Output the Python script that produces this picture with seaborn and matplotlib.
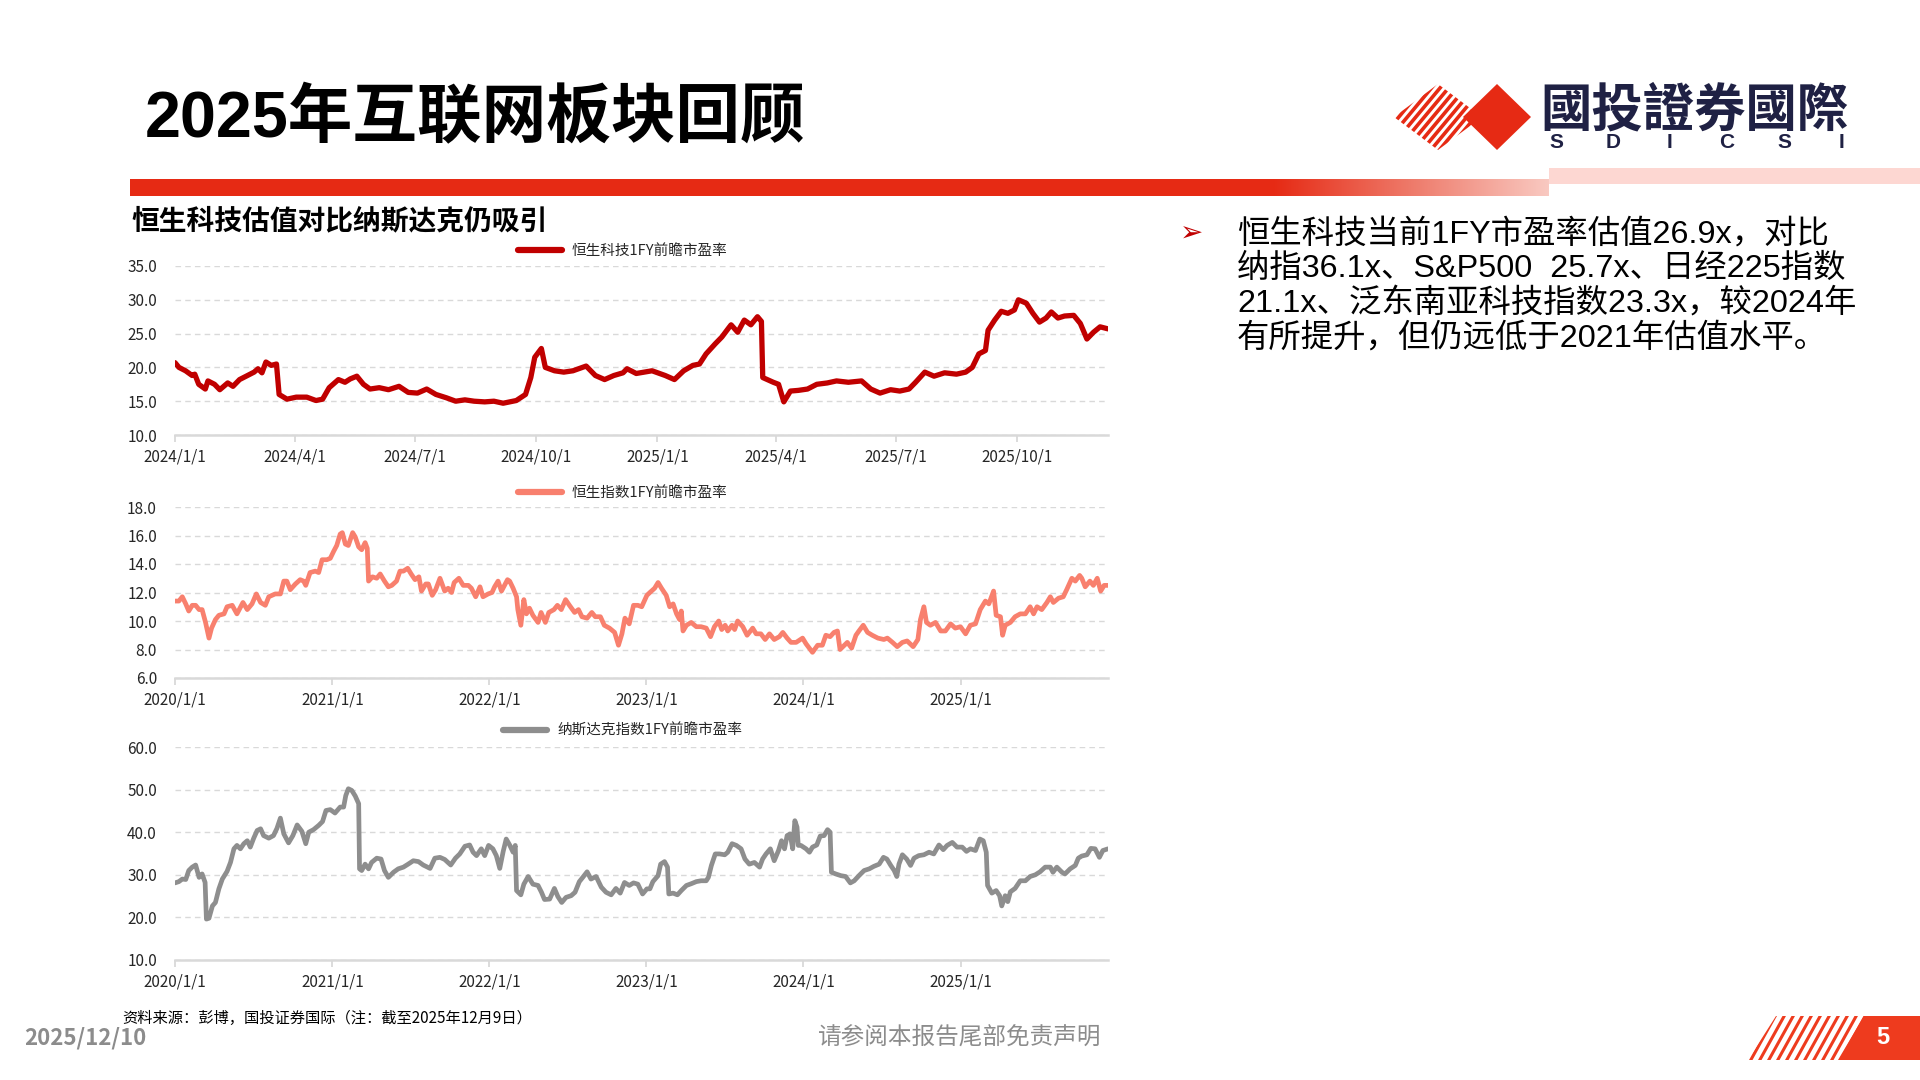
import numpy as np
import pandas as pd
import matplotlib
matplotlib.use("Agg")
import matplotlib.pyplot as plt
import seaborn as sns
from matplotlib.patches import Rectangle, Polygon
from matplotlib.colors import LinearSegmentedColormap

# ---------------- data ----------------
# 恒生科技 1FY forward PE, days since 2024-01-01
hstech_start = "2024-01-01"
hstech_day = [0, 3, 8, 13, 15, 18, 23, 25, 30, 34,
              40, 44, 49, 54, 60, 63, 66, 69, 73, 77,
              79, 85, 92, 100, 107, 112, 117, 124, 129, 133,
              138, 143, 148, 155, 162, 170, 177, 184, 191, 198,
              206, 213, 220, 227, 235, 242, 249, 259, 266, 270,
              273, 278, 281, 288, 295, 302, 312, 319, 326, 333,
              340, 343, 350, 362, 372, 379, 386, 393, 398, 403,
              410, 415, 420, 422, 427, 432, 437, 442, 445, 446,
              454, 458, 462, 467, 473, 480, 487, 495, 502, 511,
              521, 528, 535, 543, 550, 557, 562, 569, 576, 584,
              593, 600, 605, 610, 615, 617, 622, 627, 632, 637,
              640, 646, 651, 656, 661, 665, 670, 675, 682, 687,
              692, 697, 702, 708]
hstech_pe = [20.7, 20.0, 19.5, 18.8, 19.0, 17.5, 16.8, 18.0, 17.5, 16.7,
             17.7, 17.2, 18.2, 18.7, 19.3, 19.8, 19.2, 20.8, 20.3, 20.5,
             16.0, 15.3, 15.6, 15.6, 15.1, 15.3, 17.0, 18.2, 17.8, 18.3,
             18.7, 17.5, 16.8, 17.0, 16.7, 17.2, 16.3, 16.2, 16.8, 16.0,
             15.5, 15.0, 15.2, 15.0, 14.9, 15.0, 14.7, 15.1, 16.0, 18.5,
             21.5, 22.8, 20.0, 19.5, 19.3, 19.5, 20.2, 18.8, 18.2, 18.8,
             19.2, 19.8, 19.1, 19.5, 18.8, 18.2, 19.5, 20.3, 20.5, 22.0,
             23.5, 24.5, 25.8, 26.3, 25.2, 27.0, 26.3, 27.5, 26.8, 18.5,
             17.8, 17.5, 14.9, 16.5, 16.6, 16.8, 17.5, 17.7, 18.0, 17.8,
             18.0, 16.8, 16.2, 16.7, 16.5, 16.8, 17.8, 19.3, 18.7, 19.2,
             19.0, 19.3, 20.0, 22.0, 22.5, 25.5, 27.0, 28.3, 28.0, 28.5,
             30.0, 29.5, 28.0, 26.7, 27.3, 28.2, 27.3, 27.6, 27.7, 26.5,
             24.2, 25.2, 26.0, 25.7]

# 恒生指数 1FY forward PE, days since 2020-01-01
hsi_start = "2020-01-01"
hsi_day = [0, 9, 17, 25, 32, 40, 48, 56, 63, 71,
           79, 85, 94, 102, 114, 121, 133, 144, 158, 168,
           179, 189, 199, 210, 218, 233, 245, 253, 260, 268,
           280, 291, 299, 304, 314, 326, 334, 342, 353, 361,
           369, 376, 384, 389, 396, 403, 413, 419, 427, 434,
           442, 447, 450, 459, 469, 477, 487, 496, 504, 515,
           523, 531, 541, 549, 558, 567, 573, 583, 589, 598,
           606, 616, 627, 635, 643, 649, 660, 670, 682, 689,
           699, 709, 716, 728, 737, 743, 751, 759, 773, 778,
           786, 794, 797, 804, 811, 817, 824, 832, 844, 851,
           861, 869, 881, 889, 898, 908, 917, 929, 938, 946,
           958, 969, 977, 989, 998, 1010, 1022, 1031, 1039, 1046,
           1056, 1066, 1076, 1085, 1097,
           1104, 1115, 1123, 1131, 1142, 1150, 1158, 1166, 1173, 1177,
           1181, 1189, 1200, 1212, 1223, 1235, 1245, 1254, 1264, 1271,
           1279, 1285, 1295, 1301, 1308, 1320, 1330, 1343, 1351, 1362,
           1372, 1382, 1393, 1405, 1413, 1423, 1432, 1444, 1459, 1467,
           1482, 1494, 1505, 1513, 1523, 1532, 1540, 1546, 1556, 1563,
           1573, 1583, 1590, 1600, 1610, 1621, 1634, 1648, 1656, 1668,
           1679, 1691, 1702, 1716, 1727, 1733, 1741, 1747, 1756, 1768,
           1780, 1791, 1803, 1814, 1826, 1838, 1849, 1861, 1872, 1884,
           1892, 1897, 1903, 1909, 1919, 1924, 1930, 1942, 1953, 1965,
           1977, 1988, 1996, 2004, 2015, 2027, 2035, 2042, 2054, 2065,
           2073, 2085, 2093, 2103, 2108, 2116, 2127, 2135, 2144, 2152,
           2160, 2169]
hsi_pe = [11.4, 11.4, 11.7, 11.2, 10.7, 11.1, 11.1, 10.8, 10.8, 9.9,
          8.8, 9.5, 10.1, 10.4, 10.5, 11.0, 11.1, 10.5, 11.3, 10.8,
          11.2, 11.9, 11.3, 11.1, 11.7, 11.9, 11.9, 12.8, 12.8, 12.2,
          12.6, 12.9, 12.8, 12.5, 13.4, 13.5, 13.4, 14.3, 14.3, 14.4,
          14.9, 15.3, 16.1, 16.2, 15.4, 15.3, 16.2, 15.9, 15.2, 15.0,
          15.5, 15.1, 12.8, 13.1, 13.0, 13.3, 12.8, 12.4, 12.5, 12.8,
          13.5, 13.5, 13.7, 13.3, 12.9, 13.1, 12.1, 12.6, 12.6, 11.8,
          12.2, 13.0, 12.1, 12.3, 12.0, 12.7, 13.0, 12.5, 12.5, 12.3,
          11.7, 12.4, 11.7, 11.9, 12.0, 12.4, 12.8, 12.1, 12.9, 12.8,
          12.3, 11.7, 10.8, 9.7, 11.5, 10.5, 10.9, 10.4, 9.9, 10.6,
          9.9, 10.6, 10.8, 11.1, 10.8, 11.5, 11.1, 10.6, 10.8, 10.3,
          10.2, 10.6, 10.3, 10.3, 9.7, 9.5, 9.2, 8.3, 9.1, 10.2,
          9.8, 11.1, 11.1, 11.0, 11.8,
          12.0, 12.3, 12.7, 12.3, 11.8, 11.0, 11.2, 10.5, 10.1, 10.7,
          9.3, 9.7, 9.9, 9.6, 9.6, 9.5, 8.9, 9.6, 10.0, 9.4,
          9.7, 9.3, 9.7, 9.4, 10.0, 9.6, 9.0, 9.5, 9.1, 9.1,
          8.7, 9.1, 8.7, 8.9, 9.2, 8.8, 8.5, 8.5, 8.8, 8.4,
          7.8, 8.3, 8.3, 9.0, 8.9, 9.2, 9.3, 8.0, 8.3, 8.5,
          8.1, 9.0, 9.3, 9.7, 9.2, 9.0, 8.8, 8.7, 8.8, 8.5,
          8.2, 8.5, 8.6, 8.2, 8.7, 10.1, 11.0, 9.9, 9.7, 9.9,
          9.3, 9.3, 9.8, 9.5, 9.6, 9.1, 9.7, 9.8, 10.8, 11.4,
          11.2, 11.6, 12.1, 10.4, 10.3, 9.0, 9.7, 9.9, 10.3, 10.5,
          10.5, 11.0, 10.5, 11.0, 10.8, 11.3, 11.7, 11.3, 11.6, 11.7,
          12.2, 13.0, 12.8, 13.2, 13.0, 12.4, 12.8, 12.5, 13.0, 12.1,
          12.5, 12.5]

# 纳斯达克指数 1FY forward PE, days since 2020-01-01
ndx_start = "2020-01-01"
ndx_day = [0, 9, 17, 25, 32, 40, 48, 56, 63, 70,
           73, 79, 87, 94, 102, 110, 121, 129, 137, 144,
           152, 160, 168, 175, 183, 191, 199, 206, 218, 229,
           237, 245, 253, 264, 274, 284, 295, 304, 311, 322,
           334, 343, 351, 361, 372, 384, 392, 397, 403, 411,
           419, 427, 429, 434, 442, 450, 457, 469, 479, 487,
           496, 508, 519, 531, 542, 554, 566, 577, 593, 604,
           616, 627, 641, 652, 662, 674, 685, 693, 701, 712,
           720, 729, 739, 747, 755, 763, 770, 778, 786, 791,
           794, 804, 811, 821, 832, 844, 852, 859, 871, 882,
           890, 899, 909, 921, 930, 940, 948, 958, 967, 979,
           991, 1002, 1014, 1025, 1035, 1045, 1056, 1066, 1076, 1087,
           1097,
           1104, 1111, 1123, 1129, 1138, 1145, 1148, 1158, 1168, 1177,
           1189, 1200, 1212, 1223, 1235, 1240, 1247, 1256, 1266, 1278,
           1285, 1295, 1305, 1316, 1325, 1335, 1347, 1359, 1366, 1374,
           1384, 1393, 1403, 1410, 1417, 1423, 1430, 1436, 1441, 1446,
           1449, 1455, 1467, 1475, 1482, 1492, 1500, 1509, 1517, 1523,
           1526, 1536, 1548, 1559, 1570, 1579, 1590, 1602, 1614, 1625,
           1637, 1647, 1655, 1664, 1672, 1678, 1683, 1691, 1701, 1710,
           1718, 1729, 1741, 1753, 1764, 1776, 1786, 1795, 1807, 1818,
           1830, 1840, 1849, 1861, 1871, 1879, 1886, 1889, 1899, 1909,
           1917, 1922, 1930, 1936, 1942, 1953, 1965, 1977, 1988, 2000,
           2011, 2023, 2035, 2041, 2050, 2062, 2069, 2081, 2093, 2100,
           2108, 2120, 2129, 2139, 2149, 2157, 2169]
ndx_pe = [28.1, 28.4, 29.0, 28.9, 31.0, 31.8, 32.3, 29.4, 30.2, 28.2,
          19.6, 19.8, 22.7, 23.5, 26.7, 29.0, 30.8, 32.9, 36.1, 36.9,
          36.1, 37.3, 38.0, 36.5, 38.6, 40.4, 40.8, 39.2, 38.6, 39.2,
          40.9, 43.3, 39.6, 37.5, 39.2, 41.7, 40.2, 37.3, 40.0, 40.6,
          41.6, 42.5, 45.1, 45.3, 44.5, 45.9, 45.9, 48.6, 50.2, 49.8,
          48.5, 46.7, 31.4, 31.0, 32.5, 31.4, 32.9, 33.9, 33.7, 31.0,
          29.4, 30.6, 31.4, 31.8, 32.5, 33.3, 33.1, 32.3, 31.5, 33.9,
          34.1, 33.6, 32.3, 33.9, 34.9, 36.7, 37.0, 35.3, 34.5, 36.1,
          34.5, 36.9, 36.1, 34.5, 31.5, 35.5, 38.4, 37.0, 35.3, 36.9,
          26.3, 25.3, 27.8, 29.6, 27.8, 27.5, 25.9, 24.2, 24.3, 26.8,
          24.9, 23.5, 24.7, 25.1, 25.9, 28.4, 29.4, 30.7, 29.0, 29.6,
          27.1, 25.9, 25.3, 26.8, 25.7, 28.2, 27.5, 28.1, 27.8, 25.5,
          26.7,
          26.7, 28.4, 29.8, 32.5, 33.1, 31.8, 25.5, 25.7, 25.3, 26.3,
          27.5, 27.9, 28.4, 28.6, 28.6, 29.4, 32.2, 34.9, 34.9, 34.7,
          35.3, 37.3, 36.9, 36.1, 33.7, 32.5, 32.9, 31.8, 33.7, 34.9,
          36.1, 33.3, 35.7, 38.0, 36.1, 39.2, 39.6, 36.1, 42.7, 41.2,
          36.9, 36.9, 36.1, 35.3, 36.5, 37.0, 39.1, 39.2, 40.6, 40.0,
          30.6, 30.2, 29.8, 29.6, 28.1, 28.6, 29.8, 31.0, 31.4, 32.0,
          32.5, 34.1, 33.7, 32.2, 31.0, 29.6, 32.5, 34.7, 33.7, 32.2,
          33.9, 34.5, 34.7, 35.3, 34.9, 37.0, 35.9, 36.9, 37.6, 36.5,
          36.5, 35.5, 36.1, 35.7, 38.4, 38.0, 35.3, 27.5, 25.7, 26.3,
          25.1, 22.7, 25.1, 23.7, 26.0, 26.8, 28.6, 28.6, 29.6, 30.0,
          30.7, 31.8, 31.8, 30.6, 31.8, 30.6, 30.2, 31.4, 32.2, 33.9,
          34.4, 34.7, 36.2, 36.1, 34.1, 35.7, 36.1]

hstech_label = "恒生科技1FY前瞻市盈率"
hsi_label = "恒生指数1FY前瞻市盈率"
ndx_label = "纳斯达克指数1FY前瞻市盈率"

chart1_xticklabels = ["2024/1/1", "2024/4/1", "2024/7/1", "2024/10/1",
                      "2025/1/1", "2025/4/1", "2025/7/1", "2025/10/1"]
chart23_xticklabels = ["2020/1/1", "2021/1/1", "2022/1/1",
                       "2023/1/1", "2024/1/1", "2025/1/1"]
chart1_yticks = [10, 15, 20, 25, 30, 35]
chart2_yticks = [6, 8, 10, 12, 14, 16, 18]
chart3_yticks = [10, 20, 30, 40, 50, 60]

title_text = "2025年互联网板块回顾"
subtitle_text = "恒生科技估值对比纳斯达克仍吸引"
bullet_lines = ["恒生科技当前1FY市盈率估值26.9x，对比",
                "纳指36.1x、S&P500  25.7x、日经225指数",
                "21.1x、泛东南亚科技指数23.3x，较2024年",
                "有所提升，但仍远低于2021年估值水平。"]
source_text = "资料来源：彭博，国投证券国际（注：截至2025年12月9日）"
date_text = "2025/12/10"
disclaimer_text = "请参阅本报告尾部免责声明"
page_text = "5"
logo_cn = "國投證券國際"
logo_en = ["S", "D", "I", "C", "S", "I"]

# ---------------- style ----------------
sns.set_theme(style="white")
CJK = "Noto Sans CJK SC"
plt.rcParams["font.family"] = ["Liberation Sans", CJK, "DejaVu Sans"]
plt.rcParams["axes.unicode_minus"] = False
NARROW = ["Liberation Sans Narrow", CJK, "DejaVu Sans"]

RED = "#E62A14"
GRID = "#D9D9D9"

fig = plt.figure(figsize=(19.2, 10.8), dpi=100)
fig.patch.set_facecolor("white")

deco = fig.add_axes([0, 0, 1, 1], zorder=0)
deco.set_xlim(0, 1920)
deco.set_ylim(1080, 0)
deco.axis("off")

# header bars
deco.add_patch(Rectangle((130, 179), 1145, 17, color=RED, lw=0))
cmap = LinearSegmentedColormap.from_list("fade", [RED, "#EE7A6A", "#F9C9C1"])
grad = np.linspace(0, 1, 256).reshape(1, -1)
deco.imshow(grad, extent=(1273, 1549, 196, 179), aspect="auto", cmap=cmap, zorder=1)
deco.add_patch(Rectangle((1549, 168), 371, 16, color="#FDD7D2", lw=0))

# logo: hatched diamond + solid diamond
hatch_clip = Polygon([(1394, 117), (1438, 84), (1482, 117), (1438, 150)],
                     closed=True, facecolor="none", edgecolor="none")
deco.add_patch(hatch_clip)
for k in range(-8, 16):
    x0 = 1380 + k * 8.5
    ln, = deco.plot([x0, x0 + 70], [160, 76], color=RED, lw=2.6, solid_capstyle="butt")
    ln.set_clip_path(hatch_clip)
deco.add_patch(Polygon([(1463, 117), (1497, 84), (1531, 117), (1497, 150)],
                       closed=True, color=RED, lw=0))
deco.text(1540, 110, logo_cn, fontsize=37, fontweight="bold", color="#1F2144",
          family=["Noto Sans CJK TC", CJK], va="center", ha="left")
for i, ch in enumerate(logo_en):
    deco.text(1556 + i * 57, 143, ch, fontsize=15, fontweight="bold",
              color="#1F2144", ha="center", va="center")

# titles
deco.text(145, 119, title_text, fontsize=46.5, fontweight="bold", color="black",
          va="center", ha="left")
deco.text(131, 221, subtitle_text, fontsize=20, fontweight="bold", color="black",
          va="center", ha="left", family=[CJK])

# bullet text
deco.text(1180, 234, "➢", fontsize=20, color="#C00000", family=["DejaVu Sans"],
          va="center", ha="left")
for i, line in enumerate(bullet_lines):
    deco.text(1237, 234 + i * 34.7, line, fontsize=23.3, color="black",
              va="center", ha="left")

# footer
deco.text(122, 1018, source_text, fontsize=11, color="black", va="center", ha="left",
          family=NARROW)
deco.text(24, 1038, date_text, fontsize=16, fontweight="bold", color="#8C8C8C",
          va="center", ha="left", family=NARROW)
deco.text(960, 1038, disclaimer_text, fontsize=17, color="#8C8C8C",
          va="center", ha="center", family=[CJK])
page_clip = Polygon([(1748, 1060), (1776, 1016), (1866, 1016), (1838, 1060)],
                    closed=True, facecolor="none", edgecolor="none")
deco.add_patch(page_clip)
for k in range(0, 14):
    x0 = 1730 + k * 9
    ln, = deco.plot([x0, x0 + 30], [1065, 1011], color="#EE3B1E", lw=2.2,
                    solid_capstyle="butt")
    ln.set_clip_path(page_clip)
deco.add_patch(Polygon([(1838, 1060), (1864, 1016), (1920, 1016), (1920, 1060)],
                       closed=True, color="#EE3B1E", lw=0))
deco.text(1883, 1038, page_text, fontsize=17, fontweight="bold", color="white",
          va="center", ha="center")
deco.set_xlim(0, 1920)
deco.set_ylim(1080, 0)


def to_frame(start, days, vals):
    dates = pd.Timestamp(start) + pd.to_timedelta(days, unit="D")
    return pd.DataFrame({"date": dates, "pe": vals})


def draw_panel(rect, df, color, label, yticks, xticklabels, legend_y, lw):
    l, t, r, b = rect
    ax = fig.add_axes([l / 1920, 1 - b / 1080, (r - l) / 1920, (b - t) / 1080], zorder=2)
    ax.set_facecolor("none")
    sns.lineplot(data=df, x="date", y="pe", ax=ax, color=color, lw=lw, label=label)
    ax.set_ylim(yticks[0], yticks[-1])
    ax.set_yticks(yticks)
    ax.set_yticklabels([f"{v:.1f}" for v in yticks], family=NARROW, fontsize=11,
                       color="#262626")
    tick_dates = [pd.to_datetime(s, format="%Y/%m/%d") for s in xticklabels]
    ax.set_xticks(tick_dates)
    ax.set_xticklabels(xticklabels, family=NARROW, fontsize=11, color="#262626")
    ax.set_xlim(df["date"].iloc[0], df["date"].iloc[-1])
    ax.set_xlabel("")
    ax.set_ylabel("")
    for s in ["left", "right", "top"]:
        ax.spines[s].set_visible(False)
    ax.spines["bottom"].set_color(GRID)
    ax.spines["bottom"].set_linewidth(1.8)
    ax.tick_params(axis="y", length=0, pad=13)
    ax.tick_params(axis="x", direction="out", length=5, width=1.3, color=GRID, pad=5,
                   bottom=True)
    ax.yaxis.grid(True, linestyle=(0, (4, 3)), color=GRID, lw=1.0)
    ax.xaxis.grid(False)
    leg = ax.legend(loc="center", bbox_to_anchor=(0.48, legend_y), frameon=False,
                    handlelength=3.0, handletextpad=0.7, borderaxespad=0,
                    prop={"family": NARROW, "size": 10.5})
    for h in leg.get_lines():
        h.set_linewidth(4.5)
    for txt in leg.get_texts():
        txt.set_color("#262626")
    return ax


draw_panel((175, 266, 1108, 435), to_frame(hstech_start, hstech_day, hstech_pe),
           "#C00000", hstech_label, chart1_yticks, chart1_xticklabels, 1.089, 3.8)
draw_panel((175, 507, 1108, 678), to_frame(hsi_start, hsi_day, hsi_pe),
           "#F8806E", hsi_label, chart2_yticks, chart23_xticklabels, 1.082, 3.4)
draw_panel((175, 747, 1108, 960), to_frame(ndx_start, ndx_day, ndx_pe),
           "#8E8E8E", ndx_label, chart3_yticks, chart23_xticklabels, 1.075, 3.4)

fig.savefig("out.png", dpi=100)
